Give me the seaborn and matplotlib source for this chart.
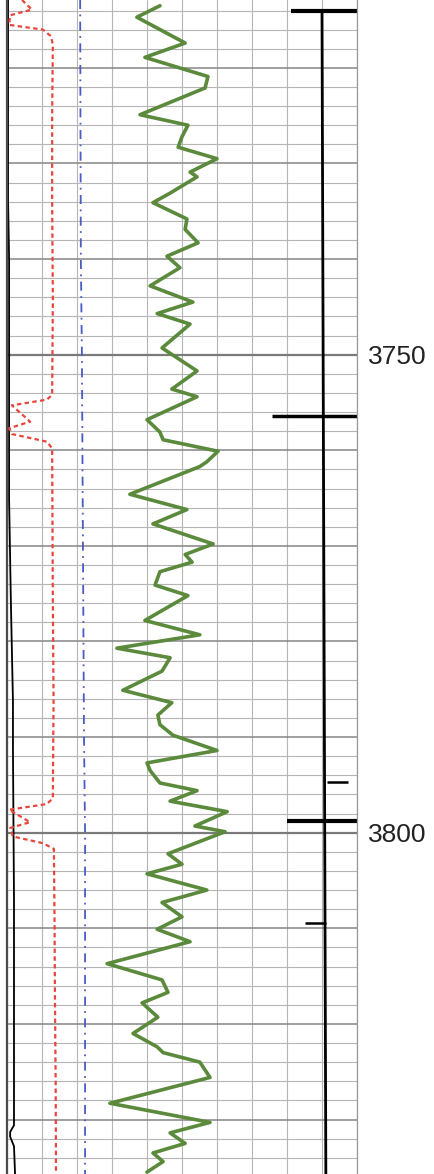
import numpy as np
import pandas as pd
import matplotlib
matplotlib.use("Agg")
import matplotlib.pyplot as plt
import seaborn as sns

# --- данные каротажа (глубина, показания в делениях трека 0-100) ---
gr_depth = [3713.5, 3714.7, 3717.4, 3718.9, 3720.9, 3722.1, 3724.9, 3726.0, 3727.2, 3728.3,
            3729.5, 3730.9, 3731.4, 3733.1, 3734.1, 3735.8, 3736.9, 3738.3, 3739.7, 3740.9,
            3742.8, 3744.5, 3745.7, 3746.8, 3749.3, 3751.7, 3753.6, 3754.4, 3756.8, 3758.1,
            3758.9, 3760.1, 3761.2, 3761.7, 3764.6, 3766.2, 3767.7, 3769.8, 3770.9, 3771.7,
            3772.7, 3774.1, 3775.2, 3777.8, 3779.3, 3780.7, 3781.7, 3783.1, 3785.1, 3786.4,
            3787.7, 3788.7, 3789.8, 3791.4, 3792.7, 3793.5, 3794.8, 3795.6, 3796.7, 3797.8,
            3799.3, 3799.9, 3802.2, 3803.3, 3804.3, 3806.0, 3807.3, 3808.8, 3810.1, 3811.4,
            3813.7, 3815.4, 3816.7, 3817.8, 3819.3, 3821.0, 3822.4, 3823.0, 3824.0, 3825.6,
            3828.3, 3830.3, 3831.4, 3832.5, 3833.5, 3834.4, 3835.5]
gr_value = [43.7, 37.1, 50.9, 39.4, 57.4, 56.6, 38.0, 51.7, 50.0, 48.9,
            60.0, 52.3, 54.3, 46.6, 41.7, 51.4, 50.9, 54.6, 45.7, 49.4,
            40.9, 53.1, 42.9, 52.3, 44.3, 54.3, 47.1, 54.3, 40.0, 43.7,
            44.6, 60.3, 57.1, 55.1, 35.1, 51.4, 41.7, 58.9, 50.9, 52.9,
            43.7, 42.3, 51.7, 39.4, 55.1, 31.4, 46.6, 44.3, 33.1, 47.1,
            43.1, 43.7, 47.4, 60.0, 40.0, 40.9, 43.7, 54.3, 46.6, 62.9,
            53.7, 62.3, 46.0, 50.0, 40.0, 57.1, 44.3, 50.0, 42.9, 52.3,
            28.6, 44.3, 46.0, 38.6, 43.1, 36.0, 42.9, 44.6, 55.1, 58.0,
            29.4, 58.0, 46.6, 50.9, 41.7, 44.6, 40.0]

red_depth = [3712.9, 3713.9, 3714.5, 3715.5, 3716.0, 3716.7, 3717.6, 3725.0, 3733.8, 3744.3,
             3754.2, 3754.7, 3755.3, 3757.0, 3757.7, 3758.3, 3759.1, 3759.8, 3768.0, 3775.7,
             3786.0, 3796.4, 3797.0, 3797.6, 3798.9, 3799.5, 3800.4, 3801.1, 3801.7, 3810.0,
             3817.5, 3826.0, 3835.7]
red_value = [4.3, 7.1, 0.9, 0.6, 10.3, 12.6, 13.1, 12.9, 12.9, 13.1,
             12.9, 11.4, 1.4, 6.6, 0.6, 1.4, 11.4, 12.9, 13.0, 13.1,
             13.3, 13.1, 11.4, 0.6, 6.6, 0.9, 1.7, 10.3, 13.4, 13.6,
             13.7, 13.9, 14.0]

blue_depth = [3712.9, 3740.0, 3750.0, 3770.0, 3790.0, 3800.0, 3835.7]
blue_value = [20.9, 21.1, 21.4, 21.7, 22.0, 22.3, 22.3]

sp_depth = [3712.9, 3733.8, 3740.0, 3744.3, 3765.2, 3775.7, 3781.0, 3786.2, 3791.3, 3807.0,
            3817.5, 3830.6, 3831.3, 3831.8, 3832.8, 3835.7]
sp_value = [0.3, 0.3, 0.6, 0.6, 0.6, 1.1, 1.4, 1.7, 1.7, 2.0,
            2.0, 2.0, 0.9, 0.9, 2.0, 2.3]

flag_depth = [3714.0, 3835.7]
flag_value = [90.0, 91.1]

mark_depth = [3714.0, 3756.4, 3794.7, 3798.8, 3809.4]
mark_left = [81.0, 75.7, 91.4, 80.0, 85.1]
mark_right = [100.0, 100.0, 97.4, 100.0, 91.1]
mark_width = [3.0, 2.5, 1.8, 3.0, 1.8]

depth_labels = [3750, 3800]

# --- построение ---
sns.set_style("white")
plt.rcParams['font.family'] = ['Liberation Sans', 'DejaVu Sans']

fig = plt.figure(figsize=(4.34, 11.74), dpi=100)
ax = fig.add_axes([7 / 434, 0.0, 350 / 434, 1.0])

# сетка
ax.set_xlim(0, 100)
ax.set_ylim(3835.7, 3712.9)
ax.set_xticks(np.arange(0, 101, 10))
ax.set_xticklabels([])
major = np.arange(3720, 3836, 10)
ax.set_yticks(major)
ax.set_yticks(np.arange(3714, 3836, 2), minor=True)
ax.set_yticklabels([str(d) if d in depth_labels else '' for d in major])
ax.grid(axis='x', which='major', color='#b5b5b5', lw=0.8)
ax.grid(axis='y', which='minor', color='#b5b5b5', lw=0.8)
ax.grid(axis='y', which='major', color='#858585', lw=1.1)
for d in depth_labels:
    ax.axhline(d, color='#7a7a7a', lw=1.6, zorder=1)
ax.set_axisbelow(True)

ax.yaxis.tick_right()
ax.tick_params(axis='y', which='both', length=0, pad=8, labelsize=19, labelcolor='#222222')
ax.tick_params(axis='x', length=0)

for s in ['top', 'bottom']:
    ax.spines[s].set_visible(False)
ax.spines['left'].set_color('#4a4a4a')
ax.spines['left'].set_linewidth(1.6)
ax.spines['right'].set_color('#999999')
ax.spines['right'].set_linewidth(0.9)

# кривые
sns.lineplot(x=sp_value, y=sp_depth, orient='y', sort=False, estimator=None,
             color='black', lw=1.3, ax=ax)
sns.lineplot(x=red_value, y=red_depth, orient='y', sort=False, estimator=None,
             color='#e8463c', lw=1.6, ax=ax, linestyle=(0, (2, 1.5)))
sns.lineplot(x=blue_value, y=blue_depth, orient='y', sort=False, estimator=None,
             color='#4a5bc4', lw=1.3, ax=ax, linestyle=(0, (5, 3, 1, 3)))
sns.lineplot(x=gr_value, y=gr_depth, orient='y', sort=False, estimator=None,
             color='#5b8a3c', lw=2.6, solid_joinstyle='round', solid_capstyle='round', ax=ax)
sns.lineplot(x=flag_value, y=flag_depth, orient='y', sort=False, estimator=None,
             color='black', lw=2.0, ax=ax)
for d, l, r, w in zip(mark_depth, mark_left, mark_right, mark_width):
    ax.hlines(d, l, r, color='black', lw=w)

ax.set_xlabel('')
ax.set_ylabel('')

fig.savefig('out.png', dpi=100)
